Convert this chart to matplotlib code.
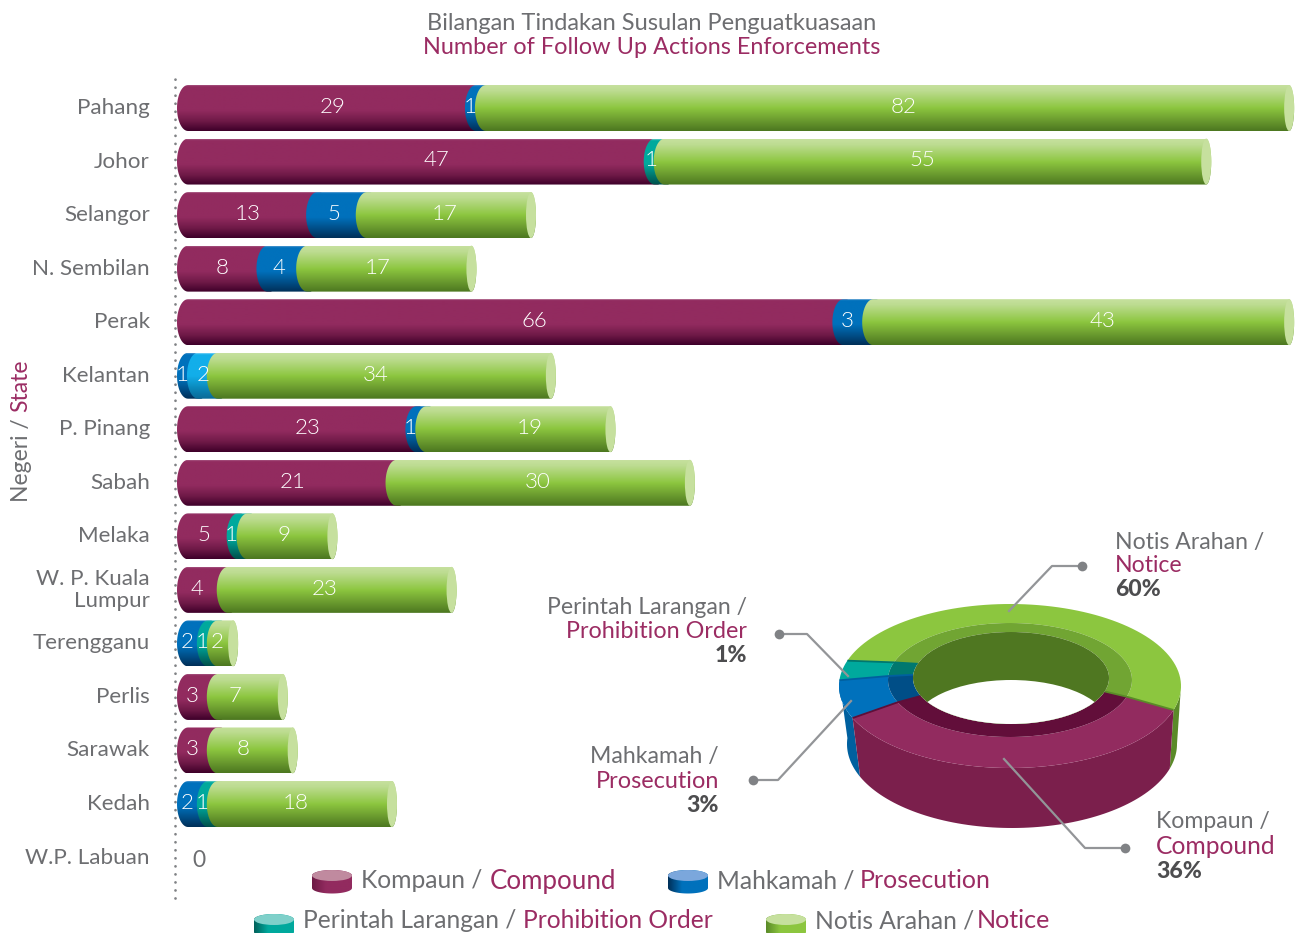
import numpy as np
import matplotlib
matplotlib.use("Agg")
import matplotlib.pyplot as plt
from matplotlib.colors import LinearSegmentedColormap
from matplotlib.patches import Polygon, PathPatch, Ellipse
from matplotlib.path import Path
from matplotlib.transforms import ScaledTranslation

plt.rcParams['font.family'] = ['Lato', 'DejaVu Sans']

states = ["Pahang", "Johor", "Selangor", "N. Sembilan", "Perak", "Kelantan", "P. Pinang", "Sabah",
          "Melaka", "W. P. Kuala\nLumpur", "Terengganu", "Perlis", "Sarawak", "Kedah", "W.P. Labuan"]
compound = [29, 47, 13, 8, 66, 0, 23, 21, 5, 4, 0, 3, 3, 0, 0]
prosecution = [1, 0, 5, 4, 3, 1, 1, 0, 0, 0, 2, 0, 0, 2, 0]
prohibition = [0, 1, 0, 0, 0, 2, 0, 0, 1, 0, 1, 0, 0, 1, 0]
notice = [82, 55, 17, 17, 43, 34, 19, 30, 9, 23, 2, 7, 8, 18, 0]

donut_pct = ["36%", "3%", "1%", "60%"]
# slices are not drawn to scale in the picture, so these are the drawn spans
donut_span = [140, 27, 14, 179]
donut_start = 203

GRAY = "#6d6e71"
PLUM = "#9b2c63"
DARK = "#4d4d4f"
LEAD = "#939598"

px = 9.93
axis_max = 112
row_h = 53.54

grad = {
    "compound": [(0, "#a5537f"), (0.03, "#922b5f"), (0.55, "#922b5f"), (0.78, "#701a48"), (1, "#3e0029")],
    "prosecution": [(0, "#4f97cf"), (0.03, "#0071bc"), (0.55, "#0071bc"), (0.78, "#00508a"), (1, "#002f58")],
    "prohibition": [(0, "#66cbc4"), (0.03, "#00a99d"), (0.55, "#00a99d"), (0.78, "#007a72"), (1, "#00504a")],
    "notice": [(0, "#c6e09e"), (0.12, "#bddc91"), (0.5, "#8cc63f"), (0.75, "#6d9e30"), (1, "#4c7720")],
    "light": [(0, "#7fd3f5"), (0.03, "#12aeea"), (0.5, "#12aeea"), (0.78, "#0a86b8"), (1, "#0a6a96")],
}
series = [("compound", compound), ("prosecution", prosecution), ("prohibition", prohibition), ("notice", notice)]

# nudges in pixels, the value labels are not centred on their segment
nudge = {(0, 0): 12, (0, 3): 22, (1, 0): 26, (1, 3): -4, (1, 2): 3, (2, 0): 6, (2, 1): 3, (2, 3): 4,
         (3, 0): 5, (3, 1): 3, (3, 3): -3, (4, 0): 30, (4, 3): 27, (5, 2): 6, (6, 0): 16, (6, 3): 20,
         (7, 0): 11, (7, 3): 3, (8, 0): 2, (8, 3): 3, (9, 3): -6, (11, 3): -6, (12, 3): -3}

fig = plt.figure(figsize=(13.08, 9.33), dpi=100)
ax = fig.add_axes([177 / 1308, 0, 1 - 177 / 1308, 1])
ax.patch.set_visible(False)
xlim = (0, (1308 - 177) / px)
ylim = ((933 - 108) / row_h, -108 / row_h)


def segment(x0, xe, y, h, lw, rw):
    t = np.linspace(np.pi / 2, 3 * np.pi / 2, 30)
    left = np.c_[x0 + lw + lw * np.cos(t), y - h / 2 * np.sin(t)]
    t = np.linspace(-np.pi / 2, np.pi / 2, 30)
    right = np.c_[xe + rw * np.cos(t), y - h / 2 * np.sin(t)]
    pts = np.vstack([left, right, left[:1]])
    return Path(pts)


def fill(axis, path, stops, extent, z, horizontal=False):
    cmap = LinearSegmentedColormap.from_list("g", stops)
    g = np.linspace(0, 1, 128)
    g = g.reshape(1, -1) if horizontal else g.reshape(-1, 1)
    im = axis.imshow(g, cmap=cmap, vmin=0, vmax=1, aspect="auto", extent=extent, zorder=z, interpolation="bilinear")
    im.set_clip_path(PathPatch(path, transform=axis.transData))


bar_h = 46 / row_h
lw = 11 / px
rw = 5 / px
for i in range(len(states)):
    total = sum(s[1][i] for s in series)
    if total == 0:
        continue
    start = 0
    end = min(total + 0.65, axis_max)
    z = 2
    parts = [(j, n, v[i]) for j, (n, v) in enumerate(series) if v[i] > 0]
    for k, (j, name, val) in enumerate(parts):
        stop = end if k == len(parts) - 1 else start + val + 1.3 * lw
        key = "light" if (name == "prohibition" and states[i] == "Kelantan") else name
        p = segment(start, stop, i, bar_h, lw, rw)
        fill(ax, p, grad[key], (start - 1, stop + 2, i + bar_h / 2, i - bar_h / 2), z)
        ax.text(start + val / 2 + nudge.get((i, j), 0) / px, i - 0.02, str(val), color="white",
                ha="center", va="center", fontsize=16, zorder=20, fontweight=300)
        start += val
        z += 1
    ax.add_patch(Ellipse((end, i), 2 * rw, bar_h, fc="#c6e09e", ec="none", zorder=z))

ax.text(2.2, 14.05, "0", color=GRAY, ha="center", va="center", fontsize=16.5)
ax.axvline(-0.2, ymin=(933 - 898) / 933, ymax=(933 - 72) / 933, color="#808285", lw=2,
           ls=(0, (0.01, 2.88)), dash_capstyle="round", clip_on=False)
ax.set_yticks(range(len(states)))
ax.set_yticklabels(states, color=GRAY, fontsize=16.1, linespacing=1.15, va="center")
down = ScaledTranslation(0, -1 / 100, fig.dpi_scale_trans)
for lab in ax.get_yticklabels():
    lab.set_transform(lab.get_transform() + down)
ax.set_xticks([])
ax.tick_params(axis="y", length=0, pad=19.5)
for s in ax.spines.values():
    s.set_visible(False)
ax.set_xlim(xlim)
ax.set_ylim(ylim)

# overlay in pixel units for the donut, legend and captions
ov = fig.add_axes([0, 0, 1, 1])
ov.patch.set_visible(False)
ov.axis("off")


def text(x, y, s, color=GRAY, ha="left", size=16.6, **kw):
    ov.text(x, y + 2, s, color=color, ha=ha, va="center", fontsize=size, **kw)


text(652, 22, "Bilangan Tindakan Susulan Penguatkuasaan", ha="center", size=17)
text(652, 46, "Number of Follow Up Actions Enforcements", PLUM, ha="center", size=16.9)
ov.text(21, 502, "Negeri /", color=GRAY, rotation=90, ha="center", va="bottom", fontsize=16.5)
ov.text(21, 412, "State", color=PLUM, rotation=90, ha="center", va="bottom", fontsize=16.5)

# donut
outer = (1010, 686, 171, 82)
mid = (1010, 680, 122, 57)
inner = (1011, 678, 98, 46)
base = (1012, 744, 165, 84)
top_col = ["#922b5f", "#0071bc", "#00a99d", "#8cc63f"]
wall_col = ["#7b1f4c", "#00609f", "#008c82", "#5a8a28"]
band_col = ["#620e3a", "#004e87", "#00786f", "#71a533"]
edge_col = ["#5e0f38", "#00609f", "#00786f", "#5a8a28"]


def arc(e, t1, t2, n=80):
    t = np.radians(np.linspace(t1, t2, n))
    return np.c_[e[0] + e[2] * np.cos(t), e[1] - e[3] * np.sin(t)]


# compound runs forward from the left, the others wrap back over the top
a0 = donut_start
spans = [(a0, a0 + donut_span[0]), (a0 - donut_span[1], a0),
         (a0 - donut_span[1] - donut_span[2], a0 - donut_span[1]),
         (a0 - donut_span[1] - donut_span[2] - donut_span[3], a0 - donut_span[1] - donut_span[2])]

for i in [3, 1, 0]:
    t1, t2 = spans[i]
    # outer wall, only the part facing the viewer
    if i == 3:
        t1, t2 = -17, 0
    pts = np.vstack([arc(outer, t1, t2), arc(base, t2, t1)])
    ov.add_patch(Polygon(pts, fc=wall_col[i], ec="none", zorder=3))
for i, (t1, t2) in enumerate(spans):
    ov.add_patch(Polygon(np.vstack([arc(outer, t1, t2), arc(mid, t2, t1)]), fc=top_col[i], ec="none", zorder=4))
    ov.add_patch(Polygon(np.vstack([arc(mid, t1, t2), arc(inner, t2, t1)]), fc=band_col[i], ec="none", zorder=4))
for i, (t1, t2) in enumerate(spans):
    seam = np.vstack([arc(outer, t1, t1, 1), arc(mid, t1, t1, 1), arc(inner, t1, t1, 1)])
    ov.plot(seam[:, 0], seam[:, 1], color=edge_col[i], lw=1.3, zorder=5, solid_capstyle="butt")

hole = Ellipse(inner[:2], 2 * inner[2], 2 * inner[3], fc="#4f7721", ec="none", zorder=5)
ov.add_patch(hole)
lens = Ellipse((inner[0], inner[1] + 48), 2 * inner[2], 2 * inner[3], fc="white", ec="none", zorder=6)
ov.add_patch(lens)
lens.set_clip_path(hole)

# leader lines
leaders = [((1082, 566), (1052, 566), (1009, 611)),
           ((779, 634), (807, 634), (848, 676)),
           ((753, 780), (778, 780), (851, 701)),
           ((1125, 848), (1085, 848), (1004, 759))]
for a, b, c in leaders:
    ov.plot([a[0], b[0], c[0]], [a[1], b[1], c[1]], color=LEAD, lw=1.6, zorder=8)
    ov.plot(a[0], a[1], "o", color="#808285", ms=7, zorder=8, mec="none")

text(747, 606, "Perintah Larangan /", ha="right")
text(747, 630, "Prohibition Order", PLUM, ha="right", size=16.8)
text(747, 654, donut_pct[2], DARK, ha="right", fontweight=900)
text(719, 755, "Mahkamah /", ha="right")
text(719, 780, "Prosecution", PLUM, ha="right", size=16.9)
text(719, 804, donut_pct[1], DARK, ha="right", fontweight=900)
text(1115, 541, "Notis Arahan /")
text(1115, 564, "Notice", PLUM)
text(1115, 588, donut_pct[3], DARK, fontweight=900)
text(1156, 820, "Kompaun /")
text(1156, 844, "Compound", PLUM, size=17.7)
text(1156, 869, donut_pct[0], DARK, fontweight=900)

# legend
legend = [(332, 875.5, "compound", ["#6d1a45", "#922b5f", "#922b5f"], "#c08a9f",
           361, "Kompaun /", 490, "Compound", 879, 18.6),
          (688, 875.5, "prosecution", ["#002f58", "#0071bc", "#0071bc"], "#7ba7dc",
           717, "Mahkamah /", 860, "Prosecution", 879, 18.0),
          (274, 919.5, "prohibition", ["#00605a", "#00a99d", "#00a99d"], "#7fd0ca",
           303, "Perintah Larangan /", 523, "Prohibition Order", 919, 17.7),
          (786, 919.5, "notice", ["#5a8a28", "#8cc63f", "#8cc63f"], "#c6e09e",
           815, "Notis Arahan /", 977, "Notice", 919, 18.1)]
for cx, cy, name, body, lid, x1, s1, x2, s2, ty, sz in legend:
    t = np.radians(np.linspace(180, 360, 30))
    low = np.c_[cx + 20 * np.cos(t), cy + 12.5 - 5.5 * np.sin(t)]
    up = np.c_[cx + 20 * np.cos(t[::-1]), cy + 5.5 * np.sin(t[::-1])]
    path = Path(np.vstack([low, up, low[:1]]))
    fill(ov, path, list(zip([0, 0.35, 1], body)), (cx - 20, cx + 20, cy + 19, cy - 6), 3, horizontal=True)
    ov.add_patch(Ellipse((cx, cy), 40, 11, fc=lid, ec="none", zorder=4))
    text(x1, ty, s1, size=17.7)
    text(x2, ty, s2, PLUM, size=sz)

ov.set_xlim(0, 1308)
ov.set_ylim(933, 0)

fig.savefig("out.png", dpi=100)
